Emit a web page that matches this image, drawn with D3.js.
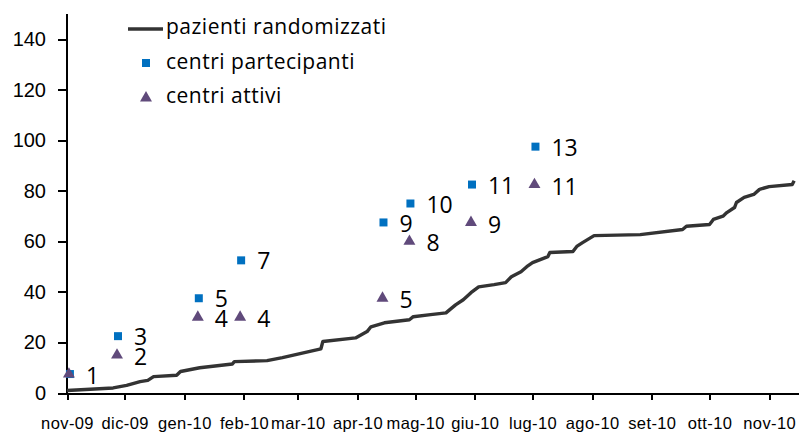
<!DOCTYPE html>
<html lang="it">
<head>
<meta charset="utf-8">
<title>Pazienti randomizzati e centri</title>
<style>
    body { margin: 0; background: #fff; }
    svg { display: block; font-family: "Gill Sans", "Gill Sans MT", "Open Sans", sans-serif; }
    .axis path, .axis line { stroke: #000; stroke-width: 2px; shape-rendering: crispEdges; }
    .yaxis text { font-size: 20px; fill: #000; }
    .xaxis text { font-size: 16.5px; letter-spacing: 0.4px; fill: #000; }
    .label { font-size: 23px; fill: #000; }
    .legend text { font-size: 21px; letter-spacing: 0.5px; fill: #000; }
</style>
</head>
<body>
<script src="https://cdn.jsdelivr.net/npm/d3@7"></script>
<script>
    // curva cumulativa dei pazienti randomizzati
    let datePazienti = ["2009-11-01", "2009-11-25", "2009-12-02", "2009-12-09", "2009-12-13", "2009-12-16",
        "2009-12-28", "2009-12-30", "2010-01-09", "2010-01-26", "2010-01-27", "2010-02-13", "2010-02-21",
        "2010-03-13", "2010-03-14", "2010-03-31", "2010-04-06", "2010-04-08", "2010-04-15", "2010-04-28",
        "2010-04-30", "2010-05-09", "2010-05-17", "2010-05-19", "2010-05-22", "2010-05-26", "2010-05-30",
        "2010-06-03", "2010-06-11", "2010-06-17", "2010-06-20", "2010-06-25", "2010-06-28", "2010-07-01",
        "2010-07-09", "2010-07-10", "2010-07-22", "2010-07-24", "2010-07-27", "2010-08-02", "2010-08-26",
        "2010-09-17", "2010-09-19", "2010-10-01", "2010-10-03", "2010-10-08", "2010-10-10", "2010-10-14",
        "2010-10-15", "2010-10-19", "2010-10-24", "2010-10-27", "2010-11-01", "2010-11-13", "2010-11-14"];
    let pazientiRandomizzati = [1, 2, 3, 4.5, 5, 6.5,
        7, 8.5, 10, 11.5, 12.4, 12.8, 14,
        17.5, 20.4, 21.8, 24.3, 26.2, 27.8, 29,
        30.2, 31, 31.7, 33, 34.9, 36.9, 39.7,
        42, 42.9, 43.7, 46, 48, 50, 51.6,
        54, 55.6, 56, 58, 59.5, 62.3, 62.7,
        64.7, 66, 66.7, 68.7, 70, 71.4, 73.4,
        75.4, 77.4, 78.6, 80.6, 81.7, 82.5, 84];

    // centri (conteggi)
    let dateCentri = ["2009-11-02", "2009-11-27", "2010-01-08", "2010-01-30", "2010-04-14", "2010-04-28", "2010-05-30", "2010-07-02"];
    let centriPartecipanti = [1, 3, 5, 7, 9, 10, 11, 13];
    let centriAttivi = [1, 2, 4, 4, 5, 8, 9, 11];

    let yTicks = [0, 20, 40, 60, 80, 100, 120, 140];
    let mesi = ["nov-09", "dic-09", "gen-10", "feb-10", "mar-10", "apr-10", "mag-10",
        "giu-10", "lug-10", "ago-10", "set-10", "ott-10", "nov-10"];

    let margin = {top: 14, right: 1, bottom: 39, left: 67},
        width = 799 - margin.left - margin.right,
        height = 432 - margin.top - margin.bottom;

    let parse = d3.timeParse("%Y-%m-%d");

    let svg = d3.select("body").append("svg")
        .attr("width", 799)
        .attr("height", 432)
        .append("g")
        .attr("transform", "translate(" + margin.left + "," + margin.top + ")");

    let x = d3.scaleTime()
        .domain([new Date(2009, 10, 1), new Date(2010, 10, 16)])
        .range([0, width]);

    let y = d3.scaleLinear().domain([0, 150]).range([height, 0]);
    // i centri sono disegnati su una scala propria (1 centro = 7.5 unita')
    let yCentri = d3.scaleLinear().domain([0, 20]).range([height, 0]);

    let monthTicks = mesi.map(function(m, i) { return new Date(2009, 10 + i, 1); });

    svg.append("g")
        .attr("class", "axis yaxis")
        .call(d3.axisLeft(y).tickValues(yTicks).tickSize(9).tickPadding(12).tickSizeOuter(0))
        .call(function(g) { g.select(".domain").attr("d", "M0," + height + "V0"); });

    svg.append("g")
        .attr("class", "axis xaxis")
        .attr("transform", "translate(0," + height + ")")
        .call(d3.axisBottom(x).tickValues(monthTicks).tickSize(7).tickSizeOuter(0).tickPadding(17)
            .tickFormat(function(d, i) { return mesi[i]; }));

    // curva pazienti
    let pazienti = datePazienti.map(function(d, i) {
        return {date: parse(d), value: pazientiRandomizzati[i]};
    });

    let line = d3.line()
        .x(function(d) { return x(d.date); })
        .y(function(d) { return y(d.value); });

    svg.append("path")
        .datum(pazienti)
        .attr("d", line)
        .attr("fill", "none")
        .attr("stroke", "#333333")
        .attr("stroke-width", 3.4)
        .attr("stroke-linejoin", "round");

    let square = d3.symbol().type(d3.symbolSquare).size(64);
    let triangle = d3.symbol().type(d3.symbolTriangle).size(62);

    let centri = dateCentri.map(function(d, i) {
        return {date: parse(d), part: centriPartecipanti[i], att: centriAttivi[i]};
    });

    svg.selectAll(".sq")
        .data(centri)
        .enter().append("path")
        .attr("class", "sq")
        .attr("d", square)
        .attr("fill", "#0070C0")
        .attr("transform", function(d) {
            return "translate(" + (x(d.date) + 1) + "," + yCentri(d.part) + ")";
        });

    svg.selectAll(".tri")
        .data(centri)
        .enter().append("path")
        .attr("class", "tri")
        .attr("d", triangle)
        .attr("fill", "#604A7B")
        .attr("transform", function(d) {
            return "translate(" + x(d.date) + "," + yCentri(d.att) + ")";
        });

    // la prima etichetta dei partecipanti coincide con quella degli attivi
    svg.selectAll(".lblPart")
        .data(centri.filter(function(d) { return d.part !== d.att; }))
        .enter().append("text")
        .attr("class", "label")
        .attr("x", function(d) { return x(d.date) + 17; })
        .attr("y", function(d) { return yCentri(d.part) + 1; })
        .attr("dy", ".35em")
        .text(function(d) { return d.part; });

    svg.selectAll(".lblAtt")
        .data(centri)
        .enter().append("text")
        .attr("class", "label")
        .attr("x", function(d) { return x(d.date) + 17; })
        .attr("y", function(d) { return yCentri(d.att) + 2; })
        .attr("dy", ".35em")
        .text(function(d) { return d.att; });

    // legenda
    let legend = d3.select("svg").append("g").attr("class", "legend");

    legend.append("line")
        .attr("x1", 128).attr("x2", 163)
        .attr("y1", 29).attr("y2", 29)
        .attr("stroke", "#333333")
        .attr("stroke-width", 3.4);
    legend.append("path")
        .attr("d", square)
        .attr("fill", "#0070C0")
        .attr("transform", "translate(146,63)");
    legend.append("path")
        .attr("d", triangle)
        .attr("fill", "#604A7B")
        .attr("transform", "translate(146,98)");

    let voci = ["pazienti randomizzati", "centri partecipanti", "centri attivi"];
    legend.selectAll("text")
        .data(voci)
        .enter().append("text")
        .attr("x", 166)
        .attr("y", function(d, i) { return 27 + i * 34.5; })
        .attr("dy", ".35em")
        .text(function(d) { return d; });
</script>
</body>
</html>
